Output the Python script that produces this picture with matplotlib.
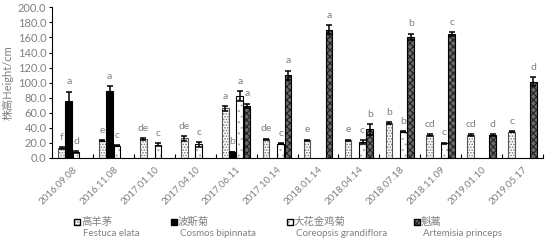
import numpy as np
import matplotlib
matplotlib.use("Agg")
import matplotlib.pyplot as plt
from matplotlib.patches import Rectangle

plt.rcParams['font.family'] = ['Lato', 'Noto Sans CJK SC', 'DejaVu Sans']
plt.rcParams['hatch.linewidth'] = 0.8

dates = ["2016.09.08", "2016.11.08", "2017.01.10", "2017.04.10", "2017.06.11", "2017.10.14",
         "2018.01.14", "2018.04.14", "2018.07.18", "2018.11.09", "2019.01.10", "2019.05.17"]

festuca = [13, 23, 25, 26, 66, 25, 23.5, 23.5, 46, 30.5, 30.5, 35]
festuca_sd = [1.5, 1, 1, 3, 3, 0.5, 1, 1, 1.5, 1, 1, 1]
festuca_sig = ["f", "e", "de", "de", "a", "de", "e", "e", "b", "cd", "cd", "c"]

cosmos = [76, 89, 0, 0, 8, 0, 0, 0, 0, 0, 0, 0]
cosmos_sd = [12, 6, 0, 0, 0.5, 0, 0, 0, 0, 0, 0, 0]
cosmos_sig = ["a", "a", "", "", "b", "", "", "", "", "", "", ""]

coreopsis = [8, 16.5, 17.5, 18, 82, 19, 0, 21, 35, 19.5, 0, 0]
coreopsis_sd = [1, 1, 2, 3, 7, 0.5, 0, 2.5, 1, 1, 0, 0]
coreopsis_sig = ["d", "c", "c", "c", "a", "c", "", "c", "b", "c", "", ""]

artemisia = [0, 0, 0, 0, 69, 110, 170.5, 38, 161, 164.5, 30.5, 101]
artemisia_sd = [0, 0, 0, 0, 3, 6, 6, 7, 4, 2.5, 1, 6]
artemisia_sig = ["", "", "", "", "a", "a", "a", "b", "b", "c", "d", "d"]

names_cn = ["高羊茅", "波斯菊", "大花金鸡菊", "魁蒿"]
names_lat = ["Festuca elata", "Cosmos bipinnata", "Coreopsis grandiflora", "Artemisia princeps"]

# (face, hatch colour, hatch, outline)
styles = [
    ("white", "#7a7a7a", "......", "#555555"),
    ("black", "black", None, "black"),
    ("white", "#b0b0b0", "...", "black"),
    ("#6a6a6a", "#222222", "xxxxx", "black"),
]

gray = "#808080"
fig = plt.figure(figsize=(5.46, 2.42), dpi=100)
ax = fig.add_axes([52 / 546, 84 / 242, 491 / 546, 150.7 / 242])

x = np.arange(len(dates))
w = 0.178
series = [(festuca, festuca_sd, festuca_sig), (cosmos, cosmos_sd, cosmos_sig),
          (coreopsis, coreopsis_sd, coreopsis_sig), (artemisia, artemisia_sd, artemisia_sig)]

for k, (vals, sd, sig) in enumerate(series):
    face, hcol, hatch, edge = styles[k]
    vals = np.array(vals, dtype=float)
    sd = np.array(sd, dtype=float)
    pos = x + (k - 1.5) * w
    m = vals > 0
    ax.bar(pos[m], vals[m], w * 0.92, color=face, edgecolor=hcol, hatch=hatch, linewidth=0, zorder=2)
    ax.bar(pos[m], vals[m], w * 0.92, facecolor="none", edgecolor=edge, linewidth=0.8, zorder=3)
    e = m & (sd > 0)
    ax.errorbar(pos[e], vals[e], yerr=sd[e], fmt="none", ecolor="black", elinewidth=1.1,
                capsize=2.5, capthick=1.1, zorder=4)
    for i in range(len(dates)):
        if sig[i]:
            ax.text(pos[i], vals[i] + sd[i] + 13, sig[i], ha="center", va="center",
                    fontsize=7.5, color=gray)

ax.set_xlim(-0.5, len(dates) - 0.5)
ax.set_ylim(0, 200)
ax.set_yticks(np.arange(0, 201, 20))
ax.set_yticklabels(["%.1f" % v for v in np.arange(0, 201, 20)], fontsize=8, color=gray)
ax.set_xticks(x)
ax.set_xticklabels(dates, fontsize=7, color=gray, rotation=45, ha="right", rotation_mode="anchor")
ax.tick_params(axis="x", length=0, pad=5)
ax.set_xticks(np.arange(len(dates)) + 0.5, minor=True)
ax.tick_params(axis="x", which="minor", direction="in", length=3, width=0.8)
ax.tick_params(axis="y", length=2, width=0.8, pad=2)
for s in ["top", "right"]:
    ax.spines[s].set_visible(False)
ax.spines["left"].set_linewidth(0.8)
ax.spines["bottom"].set_linewidth(0.8)
ax.set_ylabel("株高Height/cm", fontsize=8, color=gray, labelpad=3)

# legend drawn by hand, Chinese name above Latin name
leg_x = [74, 171, 287, 414]
for k in range(4):
    face, hcol, hatch, edge = styles[k]
    x0 = leg_x[k] / 546
    y0 = (242 - 225) / 242
    fig.patches.append(Rectangle((x0, y0), 6 / 546, 6 / 242, transform=fig.transFigure,
                                 facecolor=face, edgecolor=hcol, hatch=hatch, linewidth=0))
    fig.patches.append(Rectangle((x0, y0), 6 / 546, 6 / 242, transform=fig.transFigure,
                                 facecolor="none", edgecolor="black", linewidth=1))
    fig.text(x0 + 7 / 546, (242 - 222) / 242, names_cn[k], fontsize=7.5, color=gray, va="center")
    fig.text(x0 + 9 / 546, (242 - 234) / 242, names_lat[k], fontsize=7, color=gray, va="center")

plt.savefig("out.png", dpi=100)
